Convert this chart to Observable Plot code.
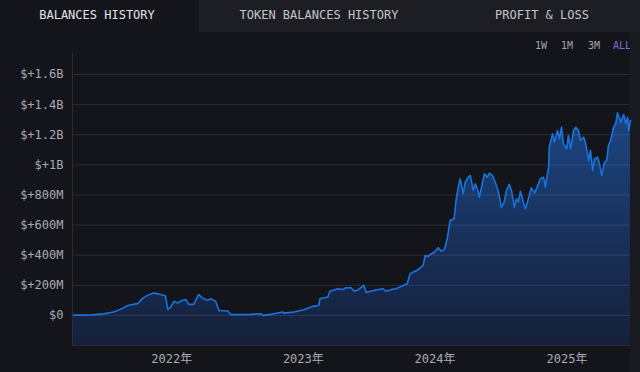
<!DOCTYPE html>
<html>
<head>
<meta charset="utf-8">
<script src="https://cdn.jsdelivr.net/npm/d3@7"></script>
<script src="https://cdn.jsdelivr.net/npm/@observablehq/plot@0.6"></script>
<style>
  html, body { margin: 0; padding: 0; background: #13151b; width: 640px; height: 372px; overflow: hidden; }
  body { position: relative; font-family: "DejaVu Sans Mono", monospace; }
  .tabs { position: absolute; left: 0; top: 0; width: 640px; height: 32px; background: #1d1e23; }
  .tab-sel { position: absolute; left: 0; top: 0; width: 199px; height: 32px; background: #13151b; }
  .tab { position: absolute; top: 0; height: 32px; line-height: 30px; font-size: 12px; color: #c4c5ca; white-space: nowrap; transform: translateX(-50%); }
  .tab.sel { color: #e2e3e6; }
  .ranges { position: absolute; top: 38px; height: 16px; line-height: 16px; font-size: 10px; color: #a2a4ab; }
  .ranges span { position: absolute; white-space: nowrap; }
  .strip { position: absolute; left: 630px; top: 32px; width: 10px; height: 340px; background: #191a20; }
  #chart { position: absolute; left: 0; top: 31px; }
</style>
</head>
<body>
<div class="tabs"><div class="tab-sel"></div></div>
<div class="tab sel" style="left:97px">BALANCES HISTORY</div>
<div class="tab" style="left:319px">TOKEN BALANCES HISTORY</div>
<div class="tab" style="left:542px">PROFIT &amp; LOSS</div>
<div class="ranges">
  <span style="left:535px">1W</span>
  <span style="left:561px">1M</span>
  <span style="left:588px">3M</span>
  <span style="left:613px;color:#8a6ad8">ALL</span>
</div>
<div class="strip"></div>
<div id="chart"></div>
<script>
const dates = [
  "2021-04-01","2021-05-21","2021-06-26","2021-07-24","2021-08-12","2021-09-01","2021-09-15","2021-09-29",
  "2021-10-12","2021-10-26","2021-11-12","2021-11-23","2021-12-01","2021-12-15","2021-12-21","2021-12-29",
  "2022-01-07","2022-01-18","2022-01-26","2022-02-09","2022-02-17","2022-03-03","2022-03-17","2022-03-25",
  "2022-03-31","2022-04-11","2022-04-19","2022-05-03","2022-05-12","2022-06-06","2022-06-14","2022-08-08",
  "2022-09-05","2022-09-11","2022-10-03","2022-11-05","2022-11-08","2022-12-06","2023-01-03","2023-01-28",
  "2023-02-13","2023-02-16","2023-03-10","2023-03-16","2023-04-07","2023-04-21","2023-04-29","2023-05-13",
  "2023-05-22","2023-06-02","2023-06-18","2023-06-24","2023-07-16","2023-08-10","2023-08-18","2023-09-01",
  "2023-09-15","2023-10-05","2023-10-16","2023-10-24","2023-11-15","2023-11-29","2023-12-05","2023-12-13",
  "2023-12-22","2023-12-30","2024-01-10","2024-01-18","2024-01-27","2024-02-04","2024-02-12","2024-02-23",
  "2024-02-29","2024-03-06","2024-03-11","2024-03-19","2024-03-25","2024-04-02","2024-04-08","2024-04-16",
  "2024-04-22","2024-04-30","2024-05-03","2024-05-08","2024-05-17","2024-05-25","2024-05-31","2024-06-08",
  "2024-06-16","2024-06-25","2024-07-03","2024-07-11","2024-07-17","2024-07-25","2024-07-31","2024-08-08",
  "2024-08-14","2024-08-19","2024-08-25","2024-09-02","2024-09-08","2024-09-16","2024-09-24","2024-10-03",
  "2024-10-11","2024-10-19","2024-10-28","2024-11-02","2024-11-11","2024-11-13","2024-11-22","2024-11-27",
  "2024-12-06","2024-12-11","2024-12-17","2024-12-22","2024-12-31","2025-01-05","2025-01-11","2025-01-19",
  "2025-01-25","2025-02-02","2025-02-07","2025-02-16","2025-02-21","2025-03-02","2025-03-07","2025-03-13",
  "2025-03-18","2025-03-27","2025-04-01","2025-04-07","2025-04-15","2025-04-21","2025-04-26","2025-05-02",
  "2025-05-10","2025-05-16","2025-05-21","2025-05-27","2025-05-30","2025-06-07","2025-06-13","2025-06-18",
  "2025-06-21","2025-06-26"
];
// balance in millions of USD
const balances = [
  2,3,10,22,40,66,73,78,
  113,133,149,143,139,129,40,55,
  93,82,95,106,73,73,139,120,
  110,100,111,93,33,29,5,7,
  11,0,7,22,15,22,38,60,
  66,111,122,161,177,171,184,184,
  161,171,199,153,166,177,161,171,
  177,199,210,277,303,332,398,392,
  410,420,450,427,436,509,631,642,
  775,857,908,808,885,918,930,830,
  874,819,786,841,941,918,945,930,
  885,819,719,752,830,870,830,719,
  775,752,825,752,708,775,847,813,
  857,908,918,852,985,1118,1206,1151,
  1228,1173,1250,1140,1107,1195,1107,1228,
  1250,1228,1162,1184,1151,1029,1096,963,
  1040,1051,1007,930,1018,1029,1129,1162,
  1250,1273,1346,1306,1284,1335,1273,1317,
  1228,1295
];
const yTicks = [0, 200, 400, 600, 800, 1000, 1200, 1400, 1600];
const yDomain = [-200, 1740];
const xTicks = ["2022-01-01", "2023-01-01", "2024-01-01", "2025-01-01"];

const data = dates.map((d, i) => ({date: new Date(d + "T00:00:00Z"), value: balances[i]}));
const xStart = data[0].date, xEnd = data[data.length - 1].date;

const fmtY = d => d === 0 ? "$0" : d >= 1000 ? "$+" + (d / 1000) + "B" : "$+" + d + "M";

const gradient = () => {
  const ns = "http://www.w3.org/2000/svg";
  const defs = document.createElementNS(ns, "defs");
  defs.innerHTML = `<linearGradient id="areaGrad" x1="0" y1="0" x2="0" y2="1">
    <stop offset="0%" stop-color="#1c4582"/>
    <stop offset="55%" stop-color="#18305a"/>
    <stop offset="100%" stop-color="#15203a"/>
  </linearGradient>`;
  return defs;
};

const chart = Plot.plot({
  width: 640,
  height: 341,
  marginLeft: 72,
  marginRight: 10,
  marginTop: 22,
  marginBottom: 27,
  style: {background: "transparent", color: "#a9abb2", fontFamily: "'DejaVu Sans Mono', 'Noto Sans CJK SC', monospace", fontSize: "12px"},
  x: {type: "utc", domain: [xStart, xEnd]},
  y: {domain: yDomain},
  marks: [
    gradient,
    Plot.areaY(data, {x: "date", y1: yDomain[0], y2: "value", fill: "url(#areaGrad)", curve: "linear"}),
    Plot.gridY(yTicks, {stroke: "#ffffff", strokeOpacity: 0.1, strokeWidth: 1}),
    Plot.lineY(data, {x: "date", y: "value", stroke: "#1873dc", strokeWidth: 1.6, curve: "linear"}),
    Plot.ruleX([xStart], {stroke: "#2a2c3c", strokeWidth: 1}),
    Plot.ruleY([yDomain[0]], {stroke: "#2a2c3c", strokeWidth: 1}),
    Plot.axisY(yTicks, {tickSize: 0, tickPadding: 9, tickFormat: fmtY, label: null, fill: "#a9abb2"}),
    Plot.axisX(xTicks.map(d => new Date(d + "T00:00:00Z")), {tickSize: 0, tickPadding: 9, tickFormat: d => d.getUTCFullYear() + "年", label: null, fill: "#a9abb2"})
  ]
});
document.getElementById("chart").appendChild(chart);
</script>
</body>
</html>
